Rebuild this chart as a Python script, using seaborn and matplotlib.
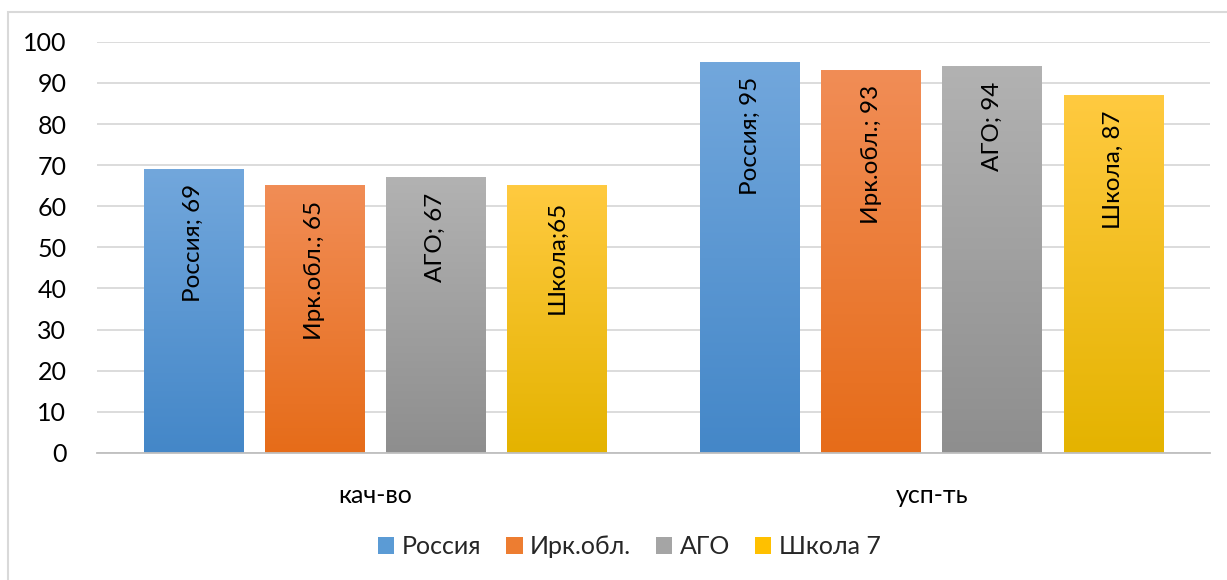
import numpy as np
import pandas as pd
import matplotlib
matplotlib.use('Agg')
import matplotlib.pyplot as plt
import seaborn as sns
from matplotlib.patches import Rectangle, Patch
from matplotlib.colors import to_rgb

categories = ['кач-во', 'усп-ть']
series = ['Россия', 'Ирк.обл.', 'АГО', 'Школа 7']
kach_vo = [69, 65, 67, 65]
usp_t = [95, 93, 94, 87]
bar_labels = [['Россия; 69', 'Россия; 95'],
              ['Ирк.обл.; 65', 'Ирк.обл.; 93'],
              ['АГО; 67', 'АГО; 94'],
              ['Школа;65', 'Школа, 87']]
y_ticks = [0, 10, 20, 30, 40, 50, 60, 70, 80, 90, 100]

# gradient colours (top, bottom) per series
top_colors = ['#72A7DC', '#F18D56', '#B2B2B2', '#FFCA40']
bottom_colors = ['#4487C8', '#E66C19', '#8E8E8E', '#E4B300']
mid_colors = ['#5B9BD5', '#ED7D31', '#A5A5A5', '#FFC000']

df = pd.DataFrame({
    'cat': categories * len(series),
    'series': [s for s in series for _ in categories],
    'value': [v for pair in zip(kach_vo, usp_t) for v in pair],
})

sns.set_theme(style='white')
plt.rcParams['font.family'] = ['Lato', 'DejaVu Sans']

fig = plt.figure(figsize=(12.27, 5.8), dpi=100)
ax = fig.add_axes([0.079, 0.219, 0.907, 0.709])

sns.barplot(data=df, x='cat', y='value', hue='series', order=categories,
            hue_order=series, palette=mid_colors, width=0.87, gap=0.18,
            legend=False, ax=ax, zorder=3)

# paint each bar with a vertical gradient
for i, cont in enumerate(ax.containers):
    c_top = np.array(to_rgb(top_colors[i]))
    c_bot = np.array(to_rgb(bottom_colors[i]))
    for j, bar in enumerate(cont):
        x0, y0 = bar.get_x(), bar.get_y()
        w, h = bar.get_width(), bar.get_height()
        t = np.linspace(0, 1, 256).reshape(-1, 1, 1)
        img = c_bot + (c_top - c_bot) * t
        ax.imshow(img, extent=[x0, x0 + w, y0, y0 + h], origin='lower',
                  aspect='auto', zorder=3.5, interpolation='bilinear')
        bar.set_facecolor('none')
        bar.set_edgecolor('none')
        ax.text(x0 + w / 2, y0 + h - 3.6, bar_labels[i][j], rotation=90,
                ha='center', va='top', fontsize=17.5, color='black', zorder=5)

ax.set_xlim(-0.5, 1.5)
ax.set_ylim(0, 100)
ax.set_yticks(y_ticks)
ax.yaxis.grid(True, color='#D9D9D9', linewidth=1.3, zorder=0)
ax.set_axisbelow(True)
for s in ['top', 'right', 'left']:
    ax.spines[s].set_visible(False)
ax.spines['bottom'].set_color('#BFBFBF')
ax.spines['bottom'].set_linewidth(1.3)
ax.spines['bottom'].set_zorder(4)
ax.tick_params(axis='y', length=0, pad=22, labelsize=18, labelcolor='black')
ax.tick_params(axis='x', length=0, pad=22, labelsize=18, labelcolor='black')
ax.set_xlabel('')
ax.set_ylabel('')

handles = [Patch(facecolor=c, edgecolor='none') for c in mid_colors]
fig.legend(handles, series, loc='center', bbox_to_anchor=(0.513, 0.057),
           ncol=4, frameon=False, fontsize=18, handlelength=0.65,
           handleheight=0.65, handletextpad=0.3, columnspacing=1.0)

# outer chart frame
fig.add_artist(Rectangle((8 / 1227, -0.1), 1.2, 1.1 - 12 / 580,
                         transform=fig.transFigure, fill=False,
                         edgecolor='#D9D9D9', linewidth=1.5))

fig.savefig('out.png', dpi=100)
